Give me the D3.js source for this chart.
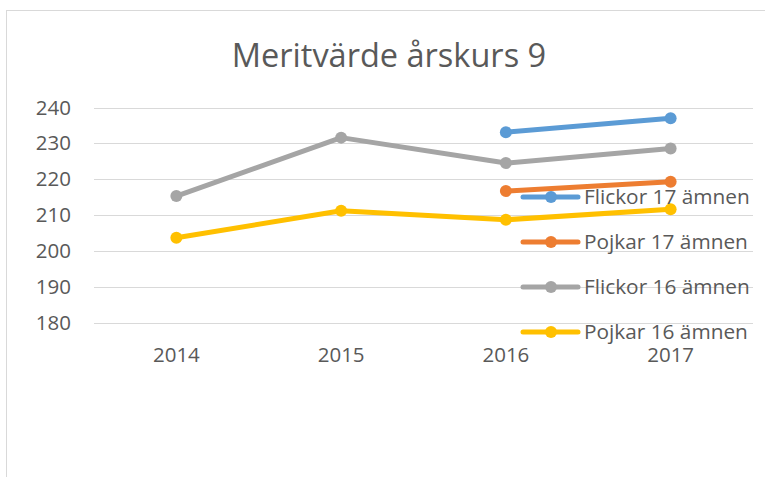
<!DOCTYPE html>
<html>
<head>
<meta charset="utf-8">
<script src="https://cdn.jsdelivr.net/npm/d3@7.9.0/dist/d3.min.js"></script>
<style>
  body { margin: 0; background: #fff; }
  text { font-family: "Open Sans", sans-serif; fill: #595959; }
</style>
</head>
<body>
<svg id="chart" width="765" height="477"></svg>
<script>
const years = ["2014", "2015", "2016", "2017"];
const yTicks = [180, 190, 200, 210, 220, 230, 240];
const seriesNames = ["Flickor 17 ämnen", "Pojkar 17 ämnen", "Flickor 16 ämnen", "Pojkar 16 ämnen"];
const seriesColors = ["#5B9BD5", "#ED7D31", "#A5A5A5", "#FFC000"];
// null = no value that year
const flickor17 = [null, null, 233.1, 237.0];
const pojkar17 = [null, null, 216.7, 219.3];
const flickor16 = [215.3, 231.6, 224.5, 228.6];
const pojkar16 = [203.7, 211.2, 208.7, 211.6];
const seriesValues = [flickor17, pojkar17, flickor16, pojkar16];

const svg = d3.select("#chart");

// chart area border
svg.append("rect")
  .attr("x", 6.5).attr("y", 10.5)
  .attr("width", 800).attr("height", 500)
  .attr("fill", "none").attr("stroke", "#D9D9D9");

svg.append("text")
  .attr("x", 389).attr("y", 67)
  .attr("text-anchor", "middle")
  .style("font-size", "32.5px")
  .text("Meritvärde årskurs 9");

let x = d3.scaleBand().domain(years).range([94, 753]);
let y = d3.scaleLinear().domain([180, 240]).range([322.7, 107.5]);

// gridlines
svg.append("g")
  .selectAll("line")
  .data(yTicks)
  .join("line")
  .attr("x1", 94).attr("x2", 753)
  .attr("y1", (d) => Math.round(y(d)) + 0.5)
  .attr("y2", (d) => Math.round(y(d)) + 0.5)
  .attr("stroke", "#D9D9D9");

let yAxis = d3.axisLeft(y).tickValues(yTicks).tickSize(0).tickPadding(0);
svg.append("g")
  .attr("transform", "translate(71,0)")
  .call(yAxis)
  .call((g) => g.select(".domain").remove())
  .selectAll("text")
  .style("font-size", "20.5px")
  .attr("fill", "#595959");

let xAxis = d3.axisBottom(x).tickSize(0).tickPadding(0);
svg.append("g")
  .attr("transform", "translate(0,347)")
  .call(xAxis)
  .call((g) => g.select(".domain").remove())
  .selectAll("text")
  .style("font-size", "20.5px")
  .attr("fill", "#595959");

let cx = (i) => x(years[i]) + x.bandwidth() / 2;
let line = d3.line()
  .defined((d) => d !== null)
  .x((d, i) => cx(i))
  .y((d) => y(d));

seriesValues.forEach((vals, s) => {
  let g = svg.append("g");
  g.append("path")
    .attr("d", line(vals))
    .attr("fill", "none")
    .attr("stroke", seriesColors[s])
    .attr("stroke-width", 5)
    .attr("stroke-linecap", "round")
    .attr("stroke-linejoin", "round");
  g.selectAll("circle")
    .data(vals.map((v, i) => ({ v, i })).filter((d) => d.v !== null))
    .join("circle")
    .attr("cx", (d) => cx(d.i))
    .attr("cy", (d) => y(d.v))
    .attr("r", 6)
    .attr("fill", seriesColors[s]);
});

// legend
let legend = svg.append("g");
seriesNames.forEach((name, i) => {
  let ly = 197 + i * 45;
  legend.append("line")
    .attr("x1", 523).attr("x2", 578)
    .attr("y1", ly).attr("y2", ly)
    .attr("stroke", seriesColors[i])
    .attr("stroke-width", 5)
    .attr("stroke-linecap", "round");
  legend.append("circle")
    .attr("cx", 551).attr("cy", ly).attr("r", 6)
    .attr("fill", seriesColors[i]);
  legend.append("text")
    .attr("x", 584).attr("y", ly)
    .attr("dy", "0.35em")
    .style("font-size", "20.8px")
    .text(name);
});
</script>
</body>
</html>
